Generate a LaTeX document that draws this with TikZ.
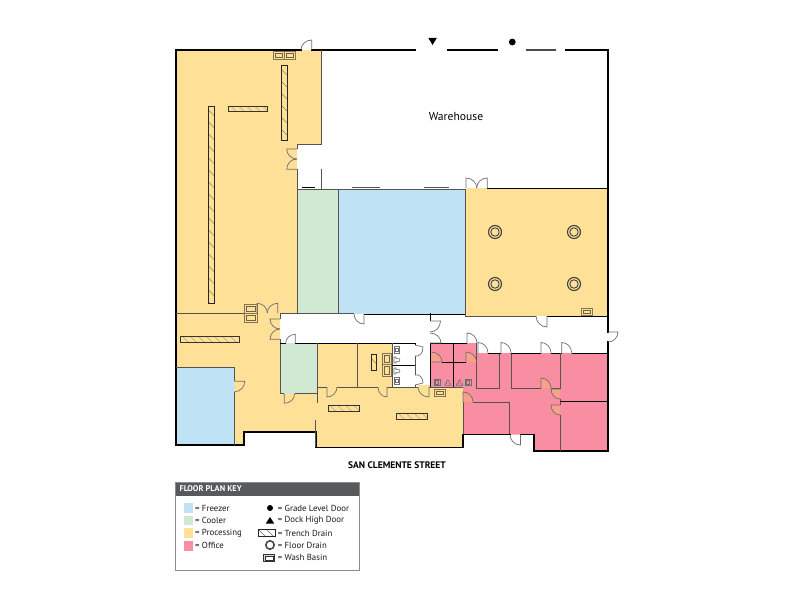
\documentclass[tikz,border=0pt]{standalone}
\usepackage{fontspec}
\setmainfont{PT Sans}
\usetikzlibrary{calc}
\definecolor{proc}{HTML}{FEE096}
\definecolor{frz}{HTML}{BFE2F4}
\definecolor{cool}{HTML}{D1E8D2}
\definecolor{off}{HTML}{F98DA2}
\definecolor{tint}{HTML}{F9A08A}
\definecolor{wallg}{HTML}{55534F}
\definecolor{doorg}{HTML}{6D6E71}
\definecolor{hatchc}{HTML}{B8A478}
\definecolor{keyhead}{HTML}{58595B}
\tikzset{
  outerwall/.style={draw=black,line width=1.3pt,line cap=rect},
  wall/.style={draw=wallg,line width=0.9pt},
  blackwall/.style={draw=black,line width=0.9pt},
  doorline/.style={draw=doorg,line width=0.7pt},
  basin/.style={draw=hatchc!70!black,line width=0.9pt},
  fixture/.style={draw=doorg,line width=0.6pt},
  keytext/.style={font=\fontsize{8.8}{10}\selectfont,anchor=west,inner sep=0pt,text=black!90},
  swatch/.style={minimum width=9.3pt,minimum height=9.3pt,inner sep=0pt,anchor=center}
}
\newcommand{\doorq}[7][none]{%
  \path[fill=#1] (#2,#3) -- (#4,#5) .. controls ($(#4,#5)+0.5523*(#6,#7)-0.5523*(#2,#3)$) and ($(#6,#7)+0.5523*(#4,#5)-0.5523*(#2,#3)$) .. (#6,#7) -- cycle;
  \draw[doorline] (#2,#3) -- (#4,#5) .. controls ($(#4,#5)+0.5523*(#6,#7)-0.5523*(#2,#3)$) and ($(#6,#7)+0.5523*(#4,#5)-0.5523*(#2,#3)$) .. (#6,#7);
}
\newcommand{\trench}[4]{%
  \begin{scope}
    \clip (#1,#2) rectangle (#3,#4);
    \foreach \k in {-30,-22,...,240} {
      \draw[hatchc,line width=0.5pt] (#1+\k,#2) -- ++(12,12);
    }
  \end{scope}
  \draw[draw=black!80,line width=0.9pt] (#1,#2) rectangle (#3,#4);
}
\newcommand{\trenchv}[4]{%
  \begin{scope}
    \clip (#1,#2) rectangle (#3,#4);
    \foreach \k in {-8,4,...,240} {
      \draw[hatchc!80!black,line width=0.5pt] (#1,#2+\k) -- ++(8,8);
    }
  \end{scope}
  \draw[draw=black!85,line width=0.9pt] (#1,#2) rectangle (#3,#4);
}
\newcommand{\washb}[4]{%
  \draw[basin] (#1,#2) rectangle (#3,#4);
  \draw[fixture,draw=hatchc!60!black] (#1+2,#2+2) rectangle (#3-2,#4-2);
}
\newcommand{\toiletr}[2]{% opens to right; x,y = left-centre
  \draw[fixture] (#1,#2-3) -- (#1+2,#2-3) -- (#1+2,#2-1.5) .. controls (#1+5,#2-2.5) and (#1+6,#2-1) .. (#1+6,#2) .. controls (#1+6,#2+1) and (#1+5,#2+2.5) .. (#1+2,#2+1.5) -- (#1+2,#2+3) -- (#1,#2+3) -- cycle;
}
\newcommand{\toiletu}[2]{% opens upward; x,y = bottom-centre
  \draw[fixture] (#1-3,#2) -- (#1-3,#2-1.5) -- (#1-1.3,#2-1.5) -- (#1-1.3,#2-4) .. controls (#1-1.3,#2-6) and (#1+1.3,#2-6) .. (#1+1.3,#2-4) -- (#1+1.3,#2-1.5) -- (#1+3,#2-1.5) -- (#1+3,#2) -- cycle;
}
\begin{document}
\begin{tikzpicture}[x=1pt,y=-1pt]
\useasboundingbox (0,0) rectangle (792,612);
% --- room fills
\fill[proc] (176,50) -- (321,50) -- (321,144) -- (297,144) -- (297,313) -- (280,313) -- (280,393.5) -- (317,393.5) -- (317,343) -- (392,343) -- (392,387) -- (463,387) -- (463,447.5) -- (316,447.5) -- (316,432) -- (244,432) -- (244,445) -- (176,445) -- cycle;
\fill[proc] (465.5,188) rectangle (608,316);
\fill[proc] (418,387) rectangle (430,385);
\fill[frz] (176,367) rectangle (235,445);
\fill[frz] (338,189) rectangle (465,314);
\fill[cool] (297,189) rectangle (338,313);
\fill[cool] (280,343) rectangle (317,393.5);
\fill[off] (430,343) -- (477,343) -- (477,353) -- (608,353) -- (608,451) -- (534,451) -- (534,434.7) -- (463,434.7) -- (463,387) -- (430,387) -- cycle;
% --- outer walls
\draw[outerwall] (301,50) -- (176,50) -- (176,445) -- (244,445) -- (244,432) -- (316,432) -- (316,447.5) -- (463,447.5) -- (463,434.7) -- (510,434.7);
\draw[outerwall] (520.5,434.7) -- (534,434.7) -- (534,451) -- (608,451) -- (608,342);
\draw[outerwall] (608,332) -- (608,50) -- (566,50);
\draw[outerwall,draw=black!70] (555,50) -- (527,50);
\draw[outerwall] (497,50) -- (447.3,50);
\draw[outerwall] (415,50) -- (312,50);
% --- interior walls
\draw[wall] (321,50) -- (321,144) -- (297,144) -- (297,149);
\draw[wall] (297,169.3) -- (297,313);
\draw[wall] (321,169) -- (321,189);
\draw[wall] (297,189) -- (465,189);
\draw[black,line width=0.8pt] (301.7,187.6) -- (315,187.6);
\draw[wallg,line width=0.8pt] (352.3,187.6) -- (380,187.6);
\draw[wallg,line width=0.8pt] (424,187.6) -- (449,187.6);
\draw[wall] (338,189) -- (338,313);
\draw[wall] (465.5,189) -- (465.5,316) -- (536,316);
\draw[blackwall] (487.3,188) -- (608,188);
\draw[blackwall] (547,316) -- (608,316);
\draw[wall] (176,313) -- (257,313);
\draw[wall] (280,313) -- (354,313);
\draw[blackwall] (364,314) -- (465,314);
\draw[wall] (280,313) -- (280,319);
\draw[wall] (280,339.3) -- (280,393.5) -- (284.3,393.5);
\draw[wall] (294.7,393.5) -- (317,393.5);
\draw[blackwall] (280,343) -- (285.7,343);
\draw[blackwall] (295.3,343) -- (415,343) -- (415,345);
\draw[wall] (317,343) -- (317,403);
\draw[wall] (315.5,420) -- (315.5,447);
\draw[wall] (357.5,343) -- (357.5,387);
\draw[wall] (392,343) -- (392,387);
\draw[wall] (415,356) -- (415,375);
\draw[wall] (415,385) -- (415,387);
\draw[blackwall] (392,365) -- (415,365);
\draw[wall] (317,387) -- (327,387);
\draw[wall] (337,387) -- (378,387);
\draw[wall] (387,387) -- (418,387);
\draw[wall] (429,387) -- (463,387);
\draw[blackwall] (430,313) -- (430,321);
\draw[blackwall] (430.5,343) -- (430.5,387);
\draw[blackwall] (430,343) -- (467,343);
\draw[blackwall] (453.3,343) -- (453.3,387);
\draw[blackwall] (442,362) -- (466,362);
\draw[wall] (476.7,343) -- (476.7,388) -- (499,388) -- (499,353);
\draw[wall] (511,353) -- (511,388) -- (541,388);
\draw[wall] (551,388) -- (560,388);
\draw[blackwall] (488,353) -- (501,353);
\draw[blackwall] (511,353) -- (541,353);
\draw[blackwall] (551,353) -- (561.7,353);
\draw[blackwall] (571.7,353) -- (608,353);
\draw[wall] (560,353) -- (560,389);
\draw[wall] (560,399) -- (560,405);
\draw[wall] (560,415) -- (560,451);
\draw[blackwall] (560,401) -- (608,401);
\draw[wall] (463,402) -- (463,434);
\draw[wall] (473,402) -- (509,402) -- (509,434);
\draw[wall] (176,367) -- (234.7,367) -- (234.7,381.3);
\draw[wall] (234.7,391.7) -- (234.7,445);
% --- doors
\doorq{311.7}{50}{311.7}{40}{301}{50}
\doorq{297}{149}{286.7}{149}{297}{159}
\doorq{297}{169.3}{286.7}{169.3}{297}{159}
\doorq{466}{188}{466}{178}{476.7}{188}
\doorq{487.3}{188}{487.3}{178}{476.7}{188}
\doorq{257}{313}{257}{303.3}{267.3}{313}
\doorq{277.7}{313}{277.7}{303.3}{267.3}{313}
\doorq{280}{319}{270}{319}{280}{329}
\doorq{280}{339.3}{270}{339.3}{280}{329}
\doorq{295.3}{343.3}{295.3}{334.3}{285.7}{343.3}
\doorq{284.3}{393.5}{284.3}{403.3}{294.7}{393.5}
\doorq[proc]{234.7}{381.3}{244.7}{381.3}{234.7}{391.7}
\doorq{327}{387}{327}{397}{337}{387}
\doorq{387}{387}{387}{397}{378}{387}
\doorq{429}{387}{429}{397}{418}{387}
\doorq{364}{314}{364}{324}{354}{314}
\doorq{430}{321}{440.5}{321}{430}{332}
\doorq{430}{343}{441}{343}{430}{333}
\doorq{547}{316}{547}{327}{536}{316}
\doorq{608}{332}{618}{332}{608}{342}
\doorq{467}{343}{467}{333}{477}{343}
\doorq{478}{353}{478}{342.5}{488}{353}
\doorq{501}{353}{501}{342.5}{511}{353}
\doorq{541}{353}{541}{342.5}{551}{353}
\doorq{561.7}{353}{561.7}{342.5}{571.7}{353}
\doorq[tint]{431}{362}{442}{362}{431}{352}
\doorq[tint]{466}{362}{466}{352}{476.5}{362}
\doorq[tint]{541}{388}{541}{378}{551}{388}
\doorq[tint]{560}{389}{551}{389}{560}{399}
\doorq[tint]{560}{405}{551}{405}{560}{415}
\doorq[tint]{463}{402}{463}{392}{473}{402}
\doorq{520.5}{434.7}{520.5}{445}{510}{434.7}
\doorq{415}{345}{423}{347}{415}{356}
\doorq{415}{385}{423}{383}{415}{375}
% --- trench drains
\trenchv{281.7}{65.7}{287.3}{140.7}
\trench{228.7}{106}{267.3}{111.7}
\trenchv{208.7}{106.3}{214.3}{303}
\trench{180}{336}{239}{342.3}
\trench{328.3}{405.7}{359.7}{411.7}
\trench{396.7}{413.7}{427.7}{419.3}
\trenchv{371}{354.3}{376.7}{370.7}
% --- wash basins
\washb{273.3}{51.3}{284.3}{59}
\washb{284.3}{51.3}{295.3}{59}
\washb{244.7}{304}{257}{313}
\washb{244.7}{313}{257}{322}
\washb{382.7}{353.7}{391}{364.3}
\washb{382.7}{364.3}{391}{376}
\washb{434.7}{389.3}{445.7}{396.7}
\washb{581.7}{308.7}{592.3}{315.7}
% --- restroom fixtures
\draw[fixture] (394,346.7) rectangle (399.7,353);
\draw[fixture] (395.3,348) rectangle (398.4,351.7);
\draw[fixture] (394,377.7) rectangle (399.7,384);
\draw[fixture] (395.3,379) rectangle (398.4,382.7);
\toiletr{394}{360}
\toiletr{394}{371}
\draw[fixture] (434,379.3) rectangle (440,385.3);
\draw[fixture] (435.3,380.6) rectangle (438.7,384);
\draw[fixture] (465.3,379.3) rectangle (471,385.3);
\draw[fixture] (466.6,380.6) rectangle (469.7,384);
\toiletu{447.8}{385.3}
\toiletu{459.5}{385.3}
% --- floor drains
\foreach \cx/\cy in {495/232,574/232,495/284,574/284} {
  \draw[black!75,line width=1.1pt] (\cx,\cy) circle (6.5pt);
  \draw[black!75,line width=0.9pt] (\cx,\cy) circle (4.2pt);
}
% --- exterior door symbols
\fill[black] (428.3,38) -- (436.8,38) -- (432.5,45) -- cycle;
\fill[black] (512.3,42) circle (3.4pt);
% --- labels
\node[inner sep=0pt,font=\fontsize{11.6}{13}\selectfont] (wh) at (456,117) {Warehouse};
\node[inner sep=0pt,font=\fontsize{9.5}{11}\selectfont\bfseries] (st) at (397,465.5) {SAN CLEMENTE STREET};
% --- key
\node[draw=black!45,line width=0.6pt,minimum width=183.5pt,minimum height=87.5pt,inner sep=0pt,anchor=north west] (keybox) at (175.3,482.3) {};
\node[fill=keyhead,minimum width=183.5pt,minimum height=13pt,inner sep=0pt,anchor=north west] (keyhd) at (175.3,482.3) {};
\node[inner sep=0pt,anchor=west,text=white,font=\fontsize{8.3}{10}\selectfont\bfseries] (keyttl) at (179.5,489) {FLOOR PLAN KEY};
\node[swatch,fill=frz] (k1) at (188.7,508) {};
\node[swatch,fill=cool] (k2) at (188.7,520.3) {};
\node[swatch,fill=proc] (k3) at (188.7,533) {};
\node[swatch,fill=off] (k4) at (188.7,546) {};
\node[keytext] (t1) at (195,508) {= Freezer};
\node[keytext] (t2) at (195,520.3) {= Cooler};
\node[keytext] (t3) at (195,533) {= Processing};
\node[keytext] (t4) at (195,545) {= Office};
\node[keytext] (t5) at (277.7,508) {= Grade Level Door};
\node[keytext] (t6) at (277.7,520.3) {= Dock High Door};
\node[keytext] (t7) at (277.7,533) {= Trench Drain};
\node[keytext] (t8) at (277.7,545) {= Floor Drain};
\node[keytext] (t9) at (277.7,557.7) {= Wash Basin};
\fill[black] (270,508) circle (3pt);
\fill[black] (265.8,523.5) -- (274.2,523.5) -- (270,517) -- cycle;
\begin{scope}
  \clip (258.5,529.5) rectangle (275,536.5);
  \foreach \k in {-8,0,...,16} { \draw[black!60,line width=0.4pt] (258.5+\k,529.5) -- ++(8,8); }
\end{scope}
\draw[black!85,line width=0.6pt] (258.5,529.5) rectangle (275,536.5);
\draw[black!70,line width=1.6pt] (270,545) circle (4.2pt);
\draw[black!80,line width=0.7pt,fill=black!15] (263.3,554.3) rectangle (274.7,561.5);
\draw[black!80,line width=0.5pt,fill=white] (265,555.8) rectangle (273,560);
\end{tikzpicture}
\end{document}
